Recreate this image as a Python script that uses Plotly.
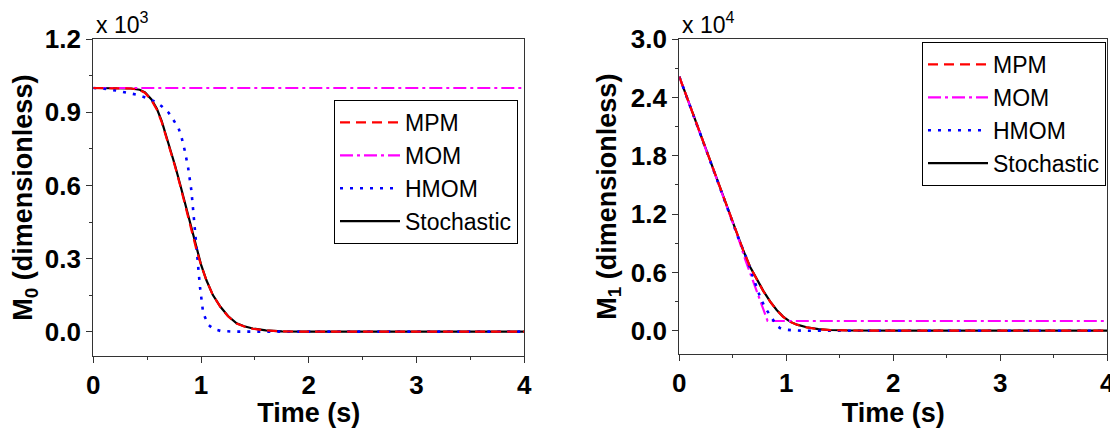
import plotly.graph_objects as go

# ---------------- data (axis units: M0 in 1e3, M1 in 1e4) ----------------
series_names = ["MPM", "MOM", "HMOM", "Stochastic"]

# Left panel: M0 (x 10^3)
t_m0_stoch = [0, 0.2, 0.35, 0.43, 0.48, 0.54, 0.59, 0.635, 0.67, 0.71, 0.76, 0.805, 0.84, 0.88, 0.92,
              0.96, 1.0, 1.05, 1.11, 1.18, 1.25, 1.33, 1.4, 1.48, 1.6, 1.75, 2.0, 4.0]
m0_stoch = [1.0, 1.0, 0.998, 0.993, 0.982, 0.953, 0.915, 0.864, 0.815, 0.755, 0.68, 0.606, 0.546, 0.469, 0.40,
            0.333, 0.275, 0.211, 0.15, 0.102, 0.064, 0.034, 0.022, 0.013, 0.005, 0.001, 0.0, 0.0]
t_m0_mpm = [0, 0.2, 0.35, 0.43, 0.48, 0.54, 0.59, 0.635, 0.67, 0.71, 0.76, 0.805, 0.84, 0.88, 0.92,
            0.96, 1.0, 1.05, 1.11, 1.18, 1.25, 1.33, 1.4, 1.48, 1.6, 1.75, 2.0, 4.0]
m0_mpm = [1.0, 1.0, 0.998, 0.992, 0.980, 0.950, 0.911, 0.860, 0.810, 0.750, 0.676, 0.602, 0.542, 0.466, 0.398,
          0.332, 0.274, 0.210, 0.150, 0.101, 0.063, 0.033, 0.021, 0.012, 0.005, 0.001, 0.0, 0.0]
t_m0_hmom = [0, 0.1, 0.22, 0.31, 0.40, 0.50, 0.57, 0.635, 0.70, 0.74, 0.79, 0.82, 0.85, 0.88, 0.91, 0.93,
             0.945, 0.965, 0.99, 1.02, 1.07, 1.12, 1.18, 1.3, 4.0]
m0_hmom = [1.0, 0.997, 0.989, 0.98, 0.973, 0.959, 0.945, 0.925, 0.898, 0.871, 0.837, 0.796, 0.741, 0.673, 0.58,
           0.483, 0.415, 0.293, 0.184, 0.075, 0.027, 0.01, 0.003, 0.0, 0.0]
t_m0_mom = [0, 1, 2, 3, 4]
m0_mom = [1.0, 1.0, 1.0, 1.0, 1.0]

# Right panel: M1 (x 10^4)
t_m1_stoch = [0, 0.16, 0.35, 0.5, 0.55, 0.6, 0.661, 0.72, 0.785, 0.85, 0.91, 0.97, 1.035, 1.1, 1.19,
              1.3, 1.41, 1.6, 1.8, 2.0, 4.0]
m1_stoch = [2.615, 2.135, 1.565, 1.115, 0.965, 0.82, 0.659, 0.54, 0.41, 0.30, 0.213, 0.145, 0.093, 0.062, 0.035,
            0.016, 0.007, 0.002, 0.0005, 0.0, 0.0]
t_m1_mpm = [0, 0.16, 0.35, 0.5, 0.55, 0.6, 0.661, 0.72, 0.785, 0.85, 0.91, 0.97, 1.035, 1.1, 1.19,
            1.3, 1.41, 1.6, 1.8, 2.0, 4.0]
m1_mpm = [2.615, 2.135, 1.565, 1.115, 0.965, 0.82, 0.657, 0.537, 0.407, 0.298, 0.211, 0.143, 0.092, 0.061, 0.034,
          0.015, 0.006, 0.002, 0.0005, 0.0, 0.0]
t_m1_mom = [0, 0.3, 0.55, 0.614, 0.707, 0.785, 0.825, 1.0, 2.0, 3.0, 4.0]
m1_mom = [2.615, 1.71, 0.96, 0.74, 0.46, 0.21, 0.1, 0.1, 0.1, 0.1, 0.1]
t_m1_hmom = [0, 0.3, 0.55, 0.62, 0.677, 0.72, 0.754, 0.8, 0.848, 0.878, 0.91, 0.94, 1.0, 1.05, 1.15, 4.0]
m1_hmom = [2.615, 1.71, 0.96, 0.77, 0.59, 0.45, 0.35, 0.24, 0.155, 0.10, 0.055, 0.028, 0.01, 0.005, 0.0, 0.0]

x_ticks = [0, 1, 2, 3, 4]
m0_exponent_label = "x 10<sup>3</sup>"
m1_exponent_label = "x 10<sup>4</sup>"

# ---------------- styles ----------------
FONT = "Arial, Liberation Sans, sans-serif"
styles = {
    "MPM": dict(color="#ff0000", dash="10px,6px", width=2.2),
    "MOM": dict(color="#ff00ff", dash="13px,4px,3px,4px", width=2.2),
    "HMOM": dict(color="#0000ff", dash="3px,7px", width=2.6),
    "Stochastic": dict(color="#000000", dash="solid", width=2.2),
}

# the page body has an 8px margin, so the figure is 8px smaller and every
# pixel position below is given in page pixels minus that offset
OFF = 8
W, H = 1118 - OFF, 428 - OFF

def px(xp):
    return (xp - OFF) / W

def py(yp):
    return 1 - (yp - OFF) / H

fig = go.Figure()

left = {"MPM": (t_m0_mpm, m0_mpm), "MOM": (t_m0_mom, m0_mom),
        "HMOM": (t_m0_hmom, m0_hmom), "Stochastic": (t_m0_stoch, m0_stoch)}
right = {"MPM": (t_m1_mpm, m1_mpm), "MOM": (t_m1_mom, m1_mom),
         "HMOM": (t_m1_hmom, m1_hmom), "Stochastic": (t_m1_stoch, m1_stoch)}

order = ["Stochastic", "MOM", "HMOM", "MPM"]
for name in order:
    t, v = left[name]
    fig.add_trace(go.Scatter(x=t, y=v, mode="lines", name=name, line=styles[name],
                             xaxis="x", yaxis="y", legend="legend", legendrank=series_names.index(name)))
for name in order:
    t, v = right[name]
    fig.add_trace(go.Scatter(x=t, y=v, mode="lines", name=name, line=styles[name],
                             xaxis="x2", yaxis="y2", legend="legend2", legendrank=series_names.index(name)))

axis_line = "#333333"
tickfont = dict(family=FONT, size=26, color="black", weight="bold")
titlefont = dict(family=FONT, size=27, color="black", weight="bold")

def xaxis(domain, anchor):
    return dict(domain=domain, anchor=anchor, range=[0, 4], tickvals=x_ticks, ticks="outside",
                ticklen=6, tickwidth=1.3, tickcolor=axis_line, showline=True, linecolor=axis_line,
                linewidth=1.4, mirror=True, showgrid=False, zeroline=False, tickfont=tickfont,
                automargin=False,
                minor=dict(dtick=0.5, ticks="outside", ticklen=3, tickcolor=axis_line, tickwidth=1.2),
                title=dict(text="Time (s)", font=titlefont, standoff=0))

def yaxis(domain, anchor, rng, dtick, title):
    return dict(domain=domain, anchor=anchor, range=rng, tick0=0, dtick=dtick, tickformat=".1f",
                ticks="outside", ticklen=6, tickwidth=1.3, tickcolor=axis_line, showline=True,
                linecolor=axis_line, linewidth=1.4, mirror=True, showgrid=False, zeroline=False,
                tickfont=tickfont, automargin=False,
                minor=dict(dtick=dtick / 2, ticks="outside", ticklen=3, tickcolor=axis_line, tickwidth=1.2),
                title=dict(text=title, font=titlefont, standoff=6))

legend_common = dict(xanchor="right", yanchor="top", bgcolor="white", bordercolor="black",
                     borderwidth=1, font=dict(family=FONT, size=23, color="black"),
                     itemwidth=60, tracegroupgap=0)

fig.update_layout(
    width=W, height=H, margin=dict(l=0, r=0, t=0, b=0),
    paper_bgcolor="white", plot_bgcolor="white",
    font=dict(family=FONT, color="black"),
    xaxis=xaxis([px(93.3), px(524.3)], "y"),
    yaxis=yaxis([py(356), py(39.3)], "x", [-0.1, 1.2], 0.3, "M<sub>0</sub> (dimensionless)"),
    xaxis2=xaxis([px(679.3), px(1107.3)], "y2"),
    yaxis2=yaxis([py(354), py(39.3)], "x2", [-0.24, 3.0], 0.6, "M<sub>1</sub> (dimensionless)"),
    legend=dict(x=px(518), y=py(100), **legend_common),
    legend2=dict(x=px(1106), y=py(42), **legend_common),
    showlegend=True,
)

fig.add_annotation(text=m0_exponent_label, xref="paper", yref="paper", x=px(94), y=py(23),
                   xanchor="left", yanchor="middle", showarrow=False,
                   font=dict(family=FONT, size=23, color="black"))
fig.add_annotation(text=m1_exponent_label, xref="paper", yref="paper", x=px(680), y=py(23),
                   xanchor="left", yanchor="middle", showarrow=False,
                   font=dict(family=FONT, size=23, color="black"))

fig.write_html("out.html")
